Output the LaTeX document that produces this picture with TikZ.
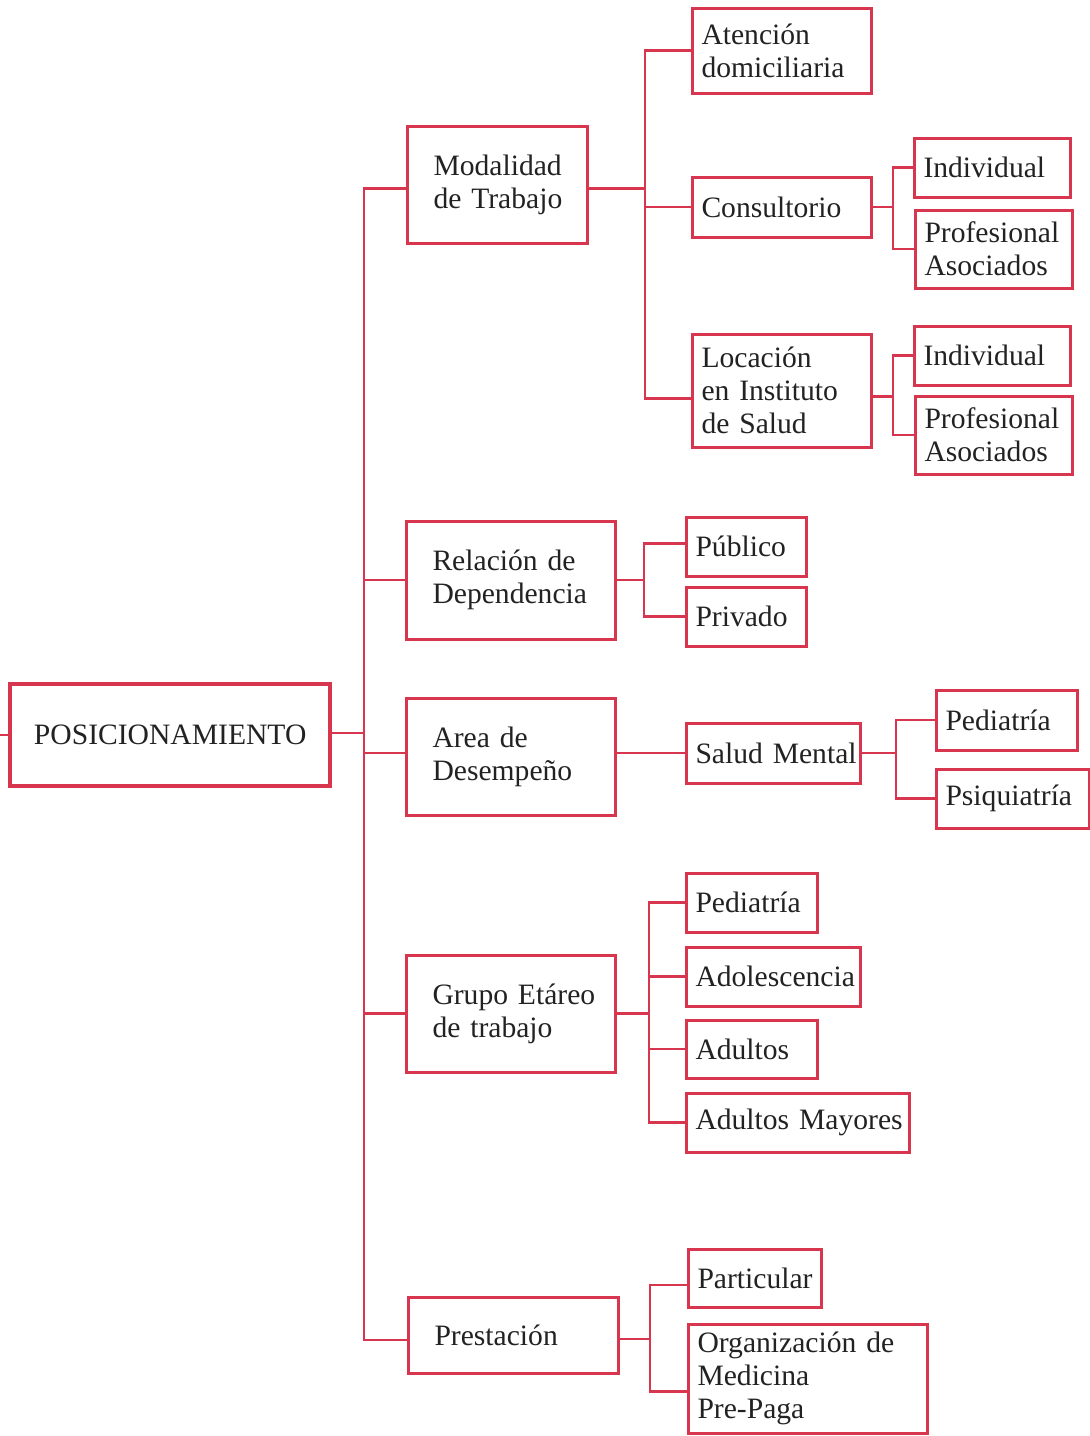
\documentclass[tikz,border=0pt]{standalone}
\usepackage{fontspec}
\setmainfont{Liberation Serif}
\usetikzlibrary{positioning}
\definecolor{chartred}{HTML}{D8354E}
\definecolor{chartink}{HTML}{222222}
\hyphenpenalty=10000
\exhyphenpenalty=10000

\begin{document}
\begin{tikzpicture}[x=0.5pt,y=-0.5pt,
  every node/.style={font=\fontsize{14.8}{16.5}\selectfont,text=chartink},
  root/.style={draw=chartred,line width=2.2pt,align=center,anchor=west,minimum width=160pt,minimum height=51pt},
  cat/.style={draw=chartred,line width=1.5pt,align=left,anchor=west,inner xsep=13pt},
  opt/.style={draw=chartred,line width=1.5pt,align=left,anchor=west,inner xsep=4.5pt},
  link/.style={draw=chartred,line width=1.2pt}]
  \useasboundingbox (0,0) rectangle (1090,1436);

  % raiz
  \node[root] (root) at (8,735) {POSICIONAMIENTO};

  % primer nivel
  \node[cat,text width=64pt,minimum height=58.5pt] (mod) at (406,184.5) {Modalidad\\de~Trabajo};
  \node[cat,text width=78.5pt,minimum height=59pt] (rel) at (405,580) {Relación de\\Dependencia};
  \node[cat,text width=78.5pt,minimum height=58.5pt] (area) at (405,756.5) {Area de\\Desempeño};
  \node[cat,text width=78.5pt,minimum height=58.5pt] (grupo) at (405,1013.5) {Grupo~Etáreo\\de trabajo};
  \node[cat,text width=79pt,minimum height=38pt] (prest) at (407,1335) {Prestación};

  % modalidad de trabajo
  \node[opt,text width=80.5pt,minimum height=42.5pt] (aten) at (691,50.5) {Atención\\domiciliaria};
  \node[opt,text width=80.5pt,minimum height=30pt] (cons) at (691,207) {Consultorio};
  \node[opt,text width=80.5pt,minimum height=56.5pt] (loc) at (691,390.5) {Locación\\en Instituto\\de Salud};
  \node[opt,text width=69pt,minimum height=29.5pt] (cind) at (913,167.5) {Individual};
  \node[opt,text width=69.5pt,minimum height=39pt] (cprof) at (914,249) {Profesional\\Asociados};
  \node[opt,text width=69pt,minimum height=29.5pt] (lind) at (913,355.5) {Individual};
  \node[opt,text width=69.5pt,minimum height=39pt] (lprof) at (914,435) {Profesional\\Asociados};

  % relacion de dependencia
  \node[opt,text width=51pt,minimum height=29.5pt] (pub) at (685,546.5) {Público};
  \node[opt,text width=51pt,minimum height=29.5pt] (priv) at (685,616.5) {Privado};

  % area de desempeno
  \node[opt,text width=78pt,minimum height=30pt] (salud) at (685,753) {Salud~Mental};
  \node[opt,text width=61.5pt,minimum height=30pt] (sped) at (935,720) {Pediatría};
  \node[opt,text width=67.5pt,minimum height=29.5pt] (psiq) at (935,798.5) {Psiquiatría};

  % grupo etareo
  \node[opt,text width=56.5pt,minimum height=29.5pt] (gped) at (685,902.5) {Pediatría};
  \node[opt,text width=78pt,minimum height=29.5pt] (adol) at (685,976.5) {Adolescencia};
  \node[opt,text width=56.5pt,minimum height=29pt] (adul) at (685,1049) {Adultos};
  \node[opt,text width=102.5pt,minimum height=29.5pt] (mayo) at (685,1122.5) {Adultos~Mayores};

  % prestacion
  \node[opt,text width=57.5pt,minimum height=29pt] (part) at (687,1278) {Particular};
  \node[opt,text width=110.5pt,minimum height=54.5pt] (prep) at (687,1378.5) {Organización de\\Medicina\\Pre-Paga};

  % lineas
  \coordinate (lstub) at (0,735);
  \coordinate (trunk) at (364,733);
  \coordinate (modbus) at (645,0);
  \coordinate (consbus) at (893,0);
  \coordinate (relbus) at (644,0);
  \coordinate (saludbus) at (896,0);
  \coordinate (grupobus) at (649,0);
  \coordinate (prestbus) at (650,0);

  \draw[link] (root.west) -- (lstub);
  \draw[link] (root.east |- trunk) -- (trunk);
  \draw[link] (trunk) |- ([yshift=-2pt]mod.west);
  \draw[link] (trunk) |- (rel.west);
  \draw[link] (trunk) |- (salud.west -| area.west);
  \draw[link] (trunk) |- (grupo.west);
  \draw[link] (trunk) |- ([yshift=-2.5pt]prest.west);

  \draw[link] ([yshift=-2pt]mod.east) -- ([yshift=-2pt]mod.east -| modbus) |- (aten.west);
  \draw[link] ([yshift=-2pt]mod.east -| modbus) |- (cons.west);
  \draw[link] ([yshift=-2pt]mod.east -| modbus) |- ([yshift=-4pt]loc.west);
  \draw[link] (cons.east) -- (cons.east -| consbus) |- (cind.west);
  \draw[link] (cons.east -| consbus) |- (cprof.west);
  \draw[link] ([yshift=-3pt]loc.east) -- ([yshift=-3pt]loc.east -| consbus) |- (lind.west);
  \draw[link] ([yshift=-3pt]loc.east -| consbus) |- (lprof.west);

  \draw[link] (rel.east) -- (rel.east -| relbus) |- ([yshift=1.5pt]pub.west);
  \draw[link] (rel.east -| relbus) |- (priv.west);

  \draw[link] (salud.west -| area.east) -- (salud.west);
  \draw[link] (salud.east) -- (salud.east -| saludbus) |- (sped.west);
  \draw[link] (salud.east -| saludbus) |- (psiq.west);

  \draw[link] (grupo.east) -- (grupo.east -| grupobus) |- (gped.west);
  \draw[link] (grupo.east -| grupobus) |- (adol.west);
  \draw[link] (grupo.east -| grupobus) |- (adul.west);
  \draw[link] (grupo.east -| grupobus) |- (mayo.west);

  \draw[link] ([yshift=-2pt]prest.east) -- ([yshift=-2pt]prest.east -| prestbus) |- ([yshift=-3.5pt]part.west);
  \draw[link] ([yshift=-2pt]prest.east -| prestbus) |- ([yshift=-6.5pt]prep.west);
\end{tikzpicture}
\end{document}
